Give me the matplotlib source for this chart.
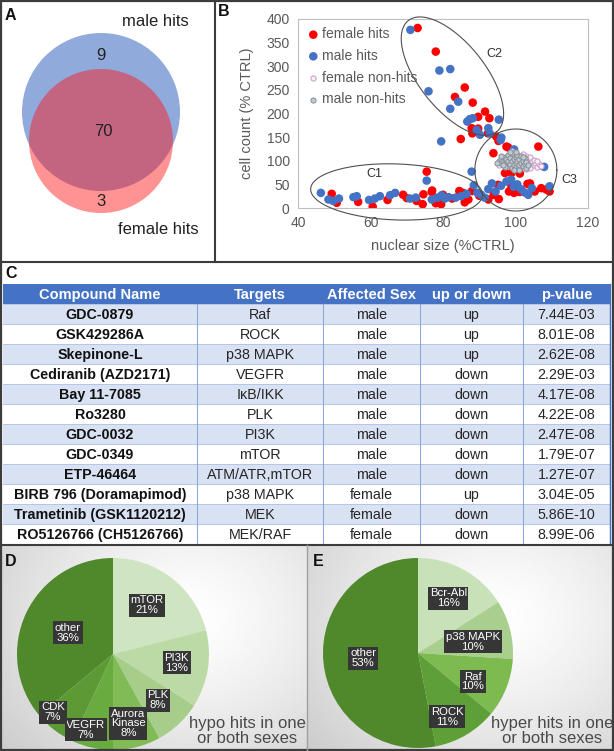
import numpy as np
import matplotlib
matplotlib.use('Agg')
import matplotlib.pyplot as plt
from matplotlib.patches import Circle, Rectangle

plt.rcParams['font.family'] = ['Liberation Sans', 'DejaVu Sans']

W, H = 614, 751

# ---------------- data ----------------
venn_counts = [9, 70, 3]          # male only, both, female only
venn_names = ['male hits', 'female hits']

fem_hit_x = [73, 78, 86, 83.3, 88.2, 91.6, 89.7, 92.8, 87.9, 89.7, 88.1, 92.4, 94.7, 84.9, 95.3,
             97.5, 93.9, 106.3, 98, 75.5, 97.1, 98.9, 101.2, 104, 95.4, 98.2, 99.6, 101.1, 103.3,
             105.3, 107.1, 108.5, 109.4, 95.2, 98.9, 49.3, 50.7, 56.6, 60.6, 64.7, 69, 70, 72.7,
             74.6, 74.4, 76.9, 78, 79.5, 77, 82.5, 84.5, 86, 87, 88, 85.5, 90, 92.5, 94, 80]
fem_hit_y = [381, 331, 255, 235, 223, 204, 193, 190, 169, 168, 158, 158, 151, 146, 142,
             130, 116, 130, 128, 77, 74, 74, 73, 52, 19, 35, 32, 34, 51,
             35, 42, 39, 35, 49, 46, 30, 11, 13, 3, 17, 28, 21, 15,
             29, 8, 34, 10, 8, 37, 20, 36, 12, 18, 36, 32, 26, 18, 28, 28]

male_hit_x = [71, 76, 79, 82, 82, 84.2, 86.7, 87.4, 88.2, 89.3, 90.2, 92.5, 92.9, 95.4, 96.1,
              79.5, 95.9, 99.6, 107.9, 109.4, 87.9, 75.5, 88.5, 92.5, 93.5, 94.5, 96, 97.5,
              98.8, 99.5, 100.5, 101.5, 102.5, 103.5, 104.5, 91.5, 90.5, 89.5, 86.5, 85, 83.5,
              81.5, 46.3, 48.4, 49.7, 51.3, 55.3, 56.2, 59.6, 61.2, 62.6, 65.4, 66.8, 70.9,
              72.5, 76.9, 78.5, 79.6, 80.5]
male_hit_y = [377, 247, 291, 294, 210, 225, 183, 188, 190, 165, 155, 169, 158, 187, 149,
              141, 144, 124, 87, 46, 77, 58, 48, 40, 52, 35, 47, 56,
              60, 45, 50, 40, 33, 28, 42, 22, 28, 32, 30, 25, 22,
              23, 32, 18, 15, 20, 23, 25, 17, 20, 25, 27, 32, 20,
              22, 18, 22, 27, 20]

fem_non_x = [96, 97, 97.5, 98, 98.5, 99, 99.5, 100, 100, 100.5, 101, 101.5, 102, 102.5, 103,
             103, 103.5, 104, 104, 104.5, 105, 105.5, 106, 106.5, 107, 105, 104, 102, 99, 98,
             96.5, 95.5, 101, 106, 103]
fem_non_y = [98, 102, 90, 106, 98, 110, 95, 103, 115, 90, 99, 106, 94, 100, 110,
             89, 103, 95, 85, 99, 91, 96, 87, 93, 88, 102, 107, 114, 121, 92,
             106, 92, 86, 99, 82]

male_non_x = [95.5, 96, 96, 96.5, 97, 97, 97, 97.5, 97.5, 98, 98, 98, 98.5, 98.5, 99, 99, 99,
              99.5, 99.5, 100, 100, 100, 100.5, 100.5, 101, 101, 101, 101.5, 101.5, 102, 102,
              102.5, 102.5, 103, 103, 96, 97, 98.5, 100, 99.5, 101, 103.5, 102, 96.5, 95]
male_non_y = [100, 95, 104, 99, 92, 108, 100, 96, 104, 88, 100, 112, 94, 106, 84, 99, 117,
              91, 103, 87, 96, 108, 112, 100, 84, 92, 104, 96, 110, 88, 100,
              93, 105, 85, 97, 110, 86, 118, 119, 80, 81, 90, 108, 90, 96]

table_cols = ['Compound Name', 'Targets', 'Affected Sex', 'up or down', 'p-value']
compounds = ['GDC-0879', 'GSK429286A', 'Skepinone-L', 'Cediranib (AZD2171)', 'Bay 11-7085',
             'Ro3280', 'GDC-0032', 'GDC-0349', 'ETP-46464', 'BIRB 796 (Doramapimod)',
             'Trametinib (GSK1120212)', 'RO5126766 (CH5126766)']
targets = ['Raf', 'ROCK', 'p38 MAPK', 'VEGFR', 'IκB/IKK', 'PLK', 'PI3K', 'mTOR',
           'ATM/ATR,mTOR', 'p38 MAPK', 'MEK', 'MEK/RAF']
sexes = ['male'] * 9 + ['female'] * 3
direction = ['up', 'up', 'up', 'down', 'down', 'down', 'down', 'down', 'down', 'up', 'down', 'down']
pvalues = ['7.44E-03', '8.01E-08', '2.62E-08', '2.29E-03', '4.17E-08', '4.22E-08',
           '2.47E-08', '1.79E-07', '1.27E-07', '3.04E-05', '5.86E-10', '8.99E-06']

hypo_labels = ['mTOR', 'PI3K', 'PLK', 'Aurora\nKinase', 'VEGFR', 'CDK', 'other']
hypo_pct = [21, 13, 8, 8, 7, 7, 36]
hyper_labels = ['Bcr-Abl', 'p38 MAPK', 'Raf', 'ROCK', 'other']
hyper_pct = [16, 10, 10, 11, 53]

# ---------------- layout helpers ----------------
fig = plt.figure(figsize=(W / 100, H / 100), dpi=100)


def box(x0, y0, x1, y1):
    return [x0 / W, 1 - y1 / H, (x1 - x0) / W, (y1 - y0) / H]


# background gradients for D and E
ax_back = fig.add_axes([0, 0, 1, 1])
ax_back.set_xlim(0, W)
ax_back.set_ylim(H, 0)
ax_back.axis('off')
gx, gy = np.meshgrid(np.linspace(0, 1, 200), np.linspace(0, 1, 200))
for (x0, x1, cx, cy) in [(0, 307, 0.62, 0.35), (307, 614, 0.62, 0.35)]:
    d = np.hypot(gx - cx, (gy - cy) * 0.8)
    v = 1 - 0.2 * np.clip(d / 0.8, 0, 1) ** 1.3
    ax_back.imshow(v, cmap='gray', vmin=0, vmax=1, extent=(x0, x1, 751, 545),
                   aspect='auto', interpolation='bilinear')

# ---------------- A: venn ----------------
ax_a = fig.add_axes(box(0, 0, 215, 262))
ax_a.set_xlim(0, 215)
ax_a.set_ylim(262, 0)
ax_a.axis('off')
ax_a.add_patch(Circle((101, 112), 79, fc='#91aadc', ec='none'))
ax_a.add_patch(Circle((101, 141), 72, fc='#ff1214', ec='none', alpha=0.46))
ax_a.text(101, 55, str(venn_counts[0]), ha='center', va='center', fontsize=12, color='#222222')
ax_a.text(103, 132, str(venn_counts[1]), ha='center', va='center', fontsize=12, color='#222222')
ax_a.text(101, 201, str(venn_counts[2]), ha='center', va='center', fontsize=12, color='#222222')
ax_a.text(155, 22, venn_names[0], ha='center', va='center', fontsize=12, color='#222222')
ax_a.text(158, 229, venn_names[1], ha='center', va='center', fontsize=12, color='#222222')

# ---------------- B: scatter ----------------
ax_b = fig.add_axes(box(298, 19, 588, 208))
ax_b.scatter(fem_hit_x, fem_hit_y, s=38, c='#ff0000', edgecolors='none', label='female hits', zorder=3)
ax_b.scatter(male_hit_x, male_hit_y, s=38, c='#4472c4', edgecolors='none', label='male hits', zorder=4)
ax_b.scatter(fem_non_x, fem_non_y, s=14, facecolors='#f7eef7', edgecolors='#c79ac8', linewidths=0.7,
             label='female non-hits', zorder=5)
ax_b.scatter(male_non_x, male_non_y, s=14, facecolors='#b9cadb', edgecolors='#8d8d8d', linewidths=0.7,
             label='male non-hits', zorder=6)
ax_b.set_xlim(40, 120)
ax_b.set_ylim(0, 400)
ax_b.set_xticks([40, 60, 80, 100, 120])
ax_b.set_yticks(range(0, 401, 50))
ax_b.tick_params(length=0, labelsize=10, labelcolor='#595959', pad=6)
for sp in ax_b.spines.values():
    sp.set_color('#bfbfbf')
    sp.set_linewidth(0.8)
ax_b.set_xlabel('nuclear size (%CTRL)', fontsize=10.5, color='#595959', labelpad=6)
ax_b.set_ylabel('cell count (% CTRL)', fontsize=10.5, color='#595959', labelpad=9)
ax_b.legend(loc='upper left', frameon=False, fontsize=10, labelcolor='#595959',
            handlelength=1.0, handletextpad=0.1, borderaxespad=0.2, labelspacing=0.55)

# cluster ellipses, sized in pixels then mapped to data
sx = 290 / 80.0
sy = 189 / 400.0
t = np.linspace(0, 2 * np.pi, 200)


def ellipse(cx, cy, a, b, ang):
    th = np.deg2rad(ang)
    dx = a * np.cos(t) * np.cos(th) - b * np.sin(t) * np.sin(th)
    dy = a * np.cos(t) * np.sin(th) + b * np.sin(t) * np.cos(th)
    ax_b.plot(cx + dx / sx, cy + dy / sy, color='#505050', lw=0.8, clip_on=False, zorder=7)


ellipse(67.2, 34, 86, 28, -2)
ellipse(82.6, 279, 71, 33, -51.5)
ellipse(100.1, 80.4, 41, 41, 0)
ax_b.text(61, 72, 'C1', fontsize=9, color='#333333', ha='center', va='center')
ax_b.text(94.3, 326, 'C2', fontsize=9, color='#333333', ha='center', va='center')
ax_b.text(114.8, 60, 'C3', fontsize=9, color='#333333', ha='center', va='center')

# ---------------- D / E: pies ----------------
hypo_colors = ['#cfe4c1', '#bcdaa6', '#a6cd8a', '#80bb55', '#6aab40', '#5c9a35', '#4f892c']
hyper_colors = ['#c9e1b8', '#a9cf8e', '#7dba50', '#5e9f37', '#4f892c']
# label placement: radius fraction and angle nudge (deg)
hypo_r = [0.62, 0.67, 0.67, 0.74, 0.84, 0.87, 0.52]
hypo_da = [3, 1, 1, -2, -7, -8, 0]
hyper_r = [0.66, 0.59, 0.65, 0.74, 0.58]
hyper_da = [0, -3, -6, -6, 0]


def pie(rect, vals, labels, colors, dists, nudges):
    ax = fig.add_axes(rect)
    ax.pie(vals, colors=colors, startangle=90, counterclock=False,
           wedgeprops=dict(linewidth=0))
    ax.set_xlim(-1, 1)
    ax.set_ylim(-1, 1)
    ax.set_facecolor('none')
    cum = 0
    for v, lab, d, da in zip(vals, labels, dists, nudges):
        mid = np.deg2rad(90 - (cum + v / 2) * 3.6 + da)
        cum += v
        ax.text(d * np.cos(mid), d * np.sin(mid), f'{lab}\n{v}%', ha='center', va='center',
                color='white', fontsize=8.2, linespacing=0.95,
                bbox=dict(boxstyle='square,pad=0.15', fc='#363636', ec='none'))
    return ax


pie(box(17, 558, 209, 750), hypo_pct, hypo_labels, hypo_colors, hypo_r, hypo_da)
pie(box(323, 558, 513, 748), hyper_pct, hyper_labels, hyper_colors, hyper_r, hyper_da)

# ---------------- overlay: table, frames, letters ----------------
ov = fig.add_axes([0, 0, 1, 1])
ov.set_xlim(0, W)
ov.set_ylim(H, 0)
ov.axis('off')

edges = [3, 197, 323, 420, 523, 610]
top, rh = 284, 20
ov.add_patch(Rectangle((edges[0], top), edges[-1] - edges[0], rh, fc='#4472c4', ec='none'))
for j, name in enumerate(table_cols):
    ov.text((edges[j] + edges[j + 1]) / 2, top + rh / 2 + 1, name, ha='center', va='center',
            color='white', fontsize=10.5, fontweight='bold')
cols = [compounds, targets, sexes, direction, pvalues]
for i in range(len(compounds)):
    y0 = top + rh * (i + 1)
    ov.add_patch(Rectangle((edges[0], y0), edges[-1] - edges[0], rh,
                           fc='#d9e2f3' if i % 2 == 0 else 'white', ec='none'))
    ov.plot([edges[0], edges[-1]], [y0, y0], color='#b4c6e7', lw=0.7)
    for j in range(5):
        ov.text((edges[j] + edges[j + 1]) / 2, y0 + rh / 2 + 1, cols[j][i], ha='center', va='center',
                color='#111111' if j == 0 else '#262626', fontsize=10.3,
                fontweight='bold' if j == 0 else 'normal')
bottom = top + rh * (len(compounds) + 1)
for x in edges[1:-1]:
    ov.plot([x, x], [top + rh, bottom], color='#8eaadb', lw=0.8)
ov.plot([edges[-1], edges[-1]], [top, bottom], color='#4472c4', lw=1.0)

# panel separators and outer frame
fc = '#3c3c3c'
ov.plot([215, 215], [0, 262], color=fc, lw=1.5)
ov.plot([0, W], [262, 262], color=fc, lw=1.5)
ov.plot([0, W], [545, 545], color=fc, lw=1.5)
ov.plot([307, 307], [545, H], color='#a0a0a0', lw=1.0)
ov.add_patch(Rectangle((0.8, 0.8), W - 1.6, H - 1.6, fc='none', ec=fc, lw=1.6))

# captions in D / E
ov.text(247, 731, 'hypo hits in one\nor both sexes', ha='center', va='center', fontsize=12,
        color='#4a4a4a', linespacing=1.05)
ov.text(552, 731, 'hyper hits in one\nor both sexes', ha='center', va='center', fontsize=12,
        color='#4a4a4a', linespacing=1.05)

# panel letters
for lab, x, y in [('A', 5, 15), ('B', 218, 12), ('C', 5, 273), ('D', 5, 562), ('E', 313, 562)]:
    ov.text(x, y, lab, ha='left', va='center', fontsize=11.5, fontweight='bold', color='#111111')

fig.savefig('out.png', dpi=100)
